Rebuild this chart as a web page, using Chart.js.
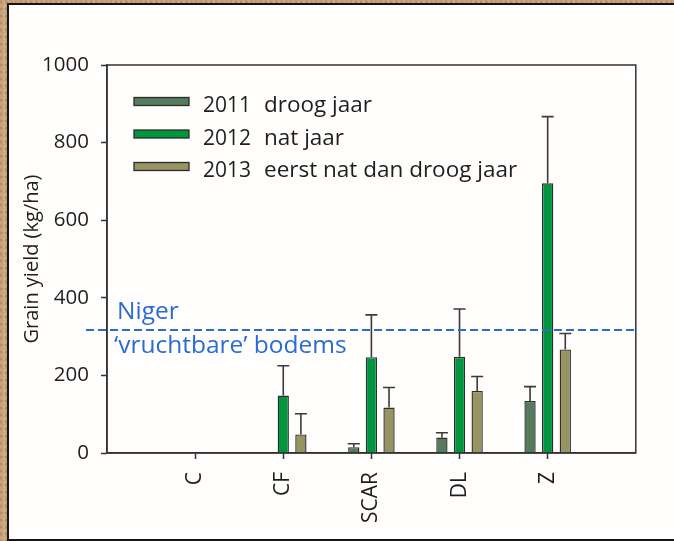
<!DOCTYPE html>
<html>
<head>
<meta charset="utf-8">
<script src="https://cdn.jsdelivr.net/npm/chart.js@4"></script>
<style>
	html, body { margin: 0; padding: 0; }
	body {
		width: 674px; height: 541px; position: relative; overflow: hidden;
		background: #c7a27a;
		background-image:
			radial-gradient(circle at 20% 30%, rgba(120,80,40,0.25) 0 1px, transparent 2px),
			radial-gradient(circle at 70% 60%, rgba(230,200,160,0.35) 0 1px, transparent 2px);
		background-size: 5px 7px, 6px 4px;
	}
	#panel {
		position: absolute; left: 7px; top: 3px; width: 680px; height: 534px;
		background: #fffefc; border: 2px solid #141414;
	}
	#grainChart { position: absolute; left: 0; top: 0; }
</style>
</head>
<body>
<div id="panel"></div>
<canvas id="grainChart" width="674" height="541"></canvas>
<script>
// 자료
const categories = ['C', 'CF', 'SCAR', 'DL', 'Z'];
const yield2011 = [0, 2, 15, 40, 134];
const yield2012 = [0, 148, 247, 248, 695];
const yield2013 = [0, 48, 117, 160, 267];
const err2011 = [0, 0, 9, 12, 37];
const err2012 = [0, 77, 109, 123, 172];
const err2013 = [0, 53, 52, 37, 41];
const yTicks = [0, 200, 400, 600, 800, 1000];
const nigerLevel = 317;

const FONT = "'Open Sans', 'Noto Sans', sans-serif";
const BLUE = '#2a6ccf';

// 양 끝에 빈 칸을 두어 축 범위를 0..6으로 맞춘다
const labels = [''].concat(categories, ['']);
const pad = arr => [null].concat(arr, [null]);

const series = [
	{ year: '2011', text: 'droog jaar', data: yield2011, err: err2011, color: '#567a5c' },
	{ year: '2012', text: 'nat jaar', data: yield2012, err: err2012, color: '#00953f' },
	{ year: '2013', text: 'eerst nat dan droog jaar', data: yield2013, err: err2013, color: '#979461' }
];

// 오차 막대, 틀, 기준선, 범례
const extras = {
	id: 'extras',
	afterDatasetsDraw(chart) {
		const ctx = chart.ctx;
		const area = chart.chartArea;
		const y = chart.scales.y;

		// error bars (upper only)
		ctx.save();
		ctx.strokeStyle = '#3a3a3a';
		ctx.lineWidth = 1.6;
		chart.data.datasets.forEach((ds, di) => {
			const meta = chart.getDatasetMeta(di);
			meta.data.forEach((bar, i) => {
				const v = ds.data[i];
				const e = ds.errors[i];
				if (v == null || !e) return;
				const top = y.getPixelForValue(v + e);
				const base = y.getPixelForValue(v);
				ctx.beginPath();
				ctx.moveTo(bar.x, base);
				ctx.lineTo(bar.x, top);
				ctx.moveTo(bar.x - 6, top);
				ctx.lineTo(bar.x + 6, top);
				ctx.stroke();
			});
		});
		ctx.restore();

		// frame
		ctx.save();
		ctx.strokeStyle = '#333';
		ctx.lineWidth = 1.5;
		ctx.strokeRect(area.left, area.top, area.right - area.left, area.bottom - area.top);
		ctx.restore();

		// Niger line
		const ly = Math.round(y.getPixelForValue(nigerLevel));
		ctx.save();
		ctx.strokeStyle = BLUE;
		ctx.lineWidth = 2;
		ctx.setLineDash([8, 4]);
		ctx.beginPath();
		ctx.moveTo(area.left - 21, ly);
		ctx.lineTo(area.right, ly);
		ctx.stroke();
		ctx.setLineDash([]);
		ctx.fillStyle = BLUE;
		ctx.font = '24.5px ' + FONT;
		ctx.textBaseline = 'alphabetic';
		ctx.fillText('Niger', area.left + 10, ly - 11);
		ctx.fillText('\u2018vruchtbare\u2019 bodems', area.left + 7, ly + 23);
		ctx.restore();

		// legend
		ctx.save();
		ctx.textBaseline = 'alphabetic';
		series.forEach((s, i) => {
			const cy = area.top + 36.5 + i * 32.5;
			ctx.fillStyle = s.color;
			ctx.fillRect(area.left + 27, cy - 4, 55, 8);
			ctx.strokeStyle = '#2b2b2b';
			ctx.lineWidth = 1.3;
			ctx.strokeRect(area.left + 27, cy - 4, 55, 8);
			ctx.fillStyle = '#1e1e1e';
			ctx.font = '21px ' + FONT;
			ctx.fillText(s.year, area.left + 96, cy + 10.5);
			ctx.font = '22.5px ' + FONT;
			ctx.fillText(s.text, area.left + 157, cy + 10.5);
		});
		ctx.restore();
	}
};

new Chart(document.getElementById('grainChart').getContext('2d'), {
	type: 'bar',
	data: {
		labels: labels,
		datasets: series.map(s => ({
			label: s.year + ' ' + s.text,
			data: pad(s.data),
			errors: pad(s.err),
			backgroundColor: s.color,
			borderColor: '#2e2e2e',
			borderWidth: 1.4,
			borderSkipped: 'start',
			categoryPercentage: 0.6,
			barPercentage: 0.64
		}))
	},
	options: {
		responsive: false,
		animation: false,
		layout: { padding: { top: 65, right: 27, left: 0, bottom: 0 } },
		scales: {
			x: {
				offset: false,
				afterFit: s => { s.height = 88; },
				grid: {
					offset: false,
					drawOnChartArea: false,
					tickLength: 6,
					tickWidth: 1.5,
					tickColor: c => (c.index === 0 || c.index === labels.length - 1) ? 'rgba(0,0,0,0)' : '#333'
				},
				border: { color: '#333', width: 1.5 },
				ticks: {
					autoSkip: false,
					minRotation: 90,
					maxRotation: 90,
					padding: 13,
					color: '#1e1e1e',
					font: { family: FONT, size: 21 }
				}
			},
			y: {
				min: 0,
				max: 1000,
				afterFit: s => { s.width = 107; },
				afterBuildTicks: s => { s.ticks = yTicks.map(v => ({ value: v })); },
				grid: { drawOnChartArea: false, tickLength: 6, tickWidth: 1.5, tickColor: '#333' },
				border: { color: '#333', width: 1.5 },
				ticks: {
					padding: 12,
					color: '#1e1e1e',
					font: { family: FONT, size: 20.5 },
					callback: v => String(v)
				},
				title: {
					display: true,
					text: 'Grain yield (kg/ha)',
					color: '#1e1e1e',
					font: { family: FONT, size: 20 },
					padding: { top: 20, bottom: 0 }
				}
			}
		},
		plugins: {
			legend: { display: false },
			tooltip: { enabled: false }
		}
	},
	plugins: [extras]
});
</script>
</body>
</html>
